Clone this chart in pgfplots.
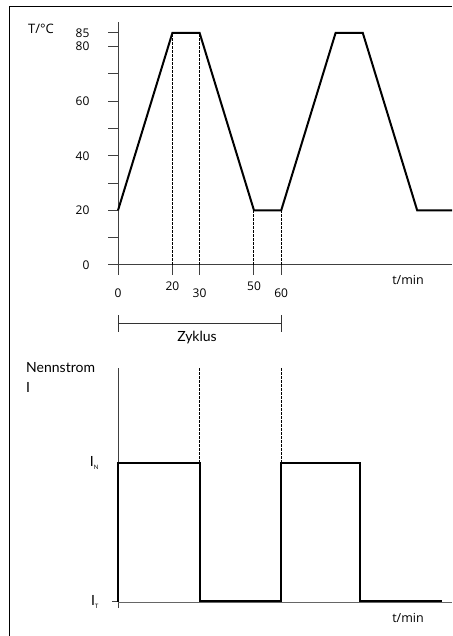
\documentclass[border=0pt]{standalone}
\usepackage{fontspec}
\setmainfont{Open Sans}
\newfontfamily\lato{Lato}
\usepackage{pgfplots}
\pgfplotsset{compat=1.18}
\begin{document}
\begin{tikzpicture}[x=1pt,y=1pt]
\useasboundingbox (0,0) rectangle (452,636);
\draw[line width=1pt] (9,0) -- (9,629) -- (452,629);
% ---------- top: temperature ----------
\begin{axis}[at={(118pt,371pt)}, anchor=south west, scale only axis,
  width=334pt, height=243pt, xmin=0, xmax=122.8, ymin=0, ymax=89,
  axis lines=left, axis line style={-, line width=1pt, draw=black!75},
  clip=false, tick align=outside, major tick length=10pt,
  every tick/.style={line width=1pt, black!75},
  ytick={0,10,20,30,40,50,60,70,80,85},
  yticklabels={0,,20,,40,,60,,80,85},
  yticklabel style={xshift=-15pt},
  xtick={0,30,60},
  xticklabel style={yshift=-10pt},
  extra x ticks={20,50},
  extra x tick style={major tick length=10pt, tick align=outside, xticklabel style={yshift=7pt}},
  tick label style={font=\fontsize{12}{14}\selectfont},
  /pgf/number format/assume math mode=true]
\addplot[black, line width=1pt, dash pattern=on 2.5pt off 1.5pt] coordinates {(20,0)(20,85)};
\addplot[black, line width=1pt, dash pattern=on 2.5pt off 1.5pt] coordinates {(30,0)(30,85)};
\addplot[black, line width=1pt, dash pattern=on 2.5pt off 1.5pt] coordinates {(50,0)(50,20)};
\addplot[black, line width=1pt, dash pattern=on 2.5pt off 1.5pt] coordinates {(60,0)(60,20)};
\addplot[black, line width=2pt, line join=miter] coordinates {(0,20)(20,85)(30,85)(50,20)(60,20)(80,85)(90,85)(110,20)(122.8,20)};
\end{axis}
% ---------- bottom: current ----------
\begin{axis}[at={(118pt,34pt)}, anchor=south west, scale only axis,
  width=334pt, height=234pt, xmin=0, xmax=122.8, ymin=0, ymax=1.683,
  axis lines=left, axis line style={-},
  x axis line style={line width=0.8pt, draw=black!60},
  y axis line style={line width=1pt, draw=black!75},
  clip=false, tick align=outside, major tick length=6pt,
  every tick/.style={line width=1pt, black!75},
  xtick={0}, xticklabels={},
  ytick={0}, yticklabels={{\lato I\raisebox{-3pt}{\fontsize{6}{6}\selectfont T}}},
  extra y ticks={1},
  extra y tick labels={{\lato I\raisebox{-3pt}{\fontsize{6}{6}\selectfont N}}},
  extra y tick style={major tick length=0pt, yticklabel style={xshift=-6pt}},
  yticklabel style={font=\fontsize{14}{16}\selectfont, xshift=-10pt}]
\addplot[black, line width=1pt, dash pattern=on 2.5pt off 1.5pt] coordinates {(30,1)(30,1.683)};
\addplot[black, line width=1pt, dash pattern=on 2.5pt off 1.5pt] coordinates {(60,1)(60,1.683)};
\addplot[black, line width=2pt, line join=miter] coordinates {(0,0)(0,1)(30,1)(30,0.01)(60,0.01)(60,1)(89,1)(89,0.01)(119,0.01)};
\end{axis}
% ---------- labels ----------
\node[anchor=west, font=\fontsize{13}{15}\selectfont, inner sep=0] at (28,607) {T/°C};
\node[font=\fontsize{12.5}{15}\selectfont, inner sep=0] at (408,356) {t/min};
\node[font=\fontsize{12.5}{15}\selectfont, inner sep=0] at (408,18) {t/min};
\draw[line width=0.9pt, black!80] (118,304) -- (118,321) (118,313) -- (281,313) (281,304) -- (281,321);
\node[font=\lato\fontsize{14}{16}\selectfont, inner sep=0] at (197,298) {Zyklus};
\node[anchor=west, font=\lato\fontsize{14}{16}\selectfont, inner sep=0] at (26,268) {Nennstrom};
\node[anchor=west, font=\lato\fontsize{14}{16}\selectfont, inner sep=0] at (26,249) {I};
\end{tikzpicture}
\end{document}
